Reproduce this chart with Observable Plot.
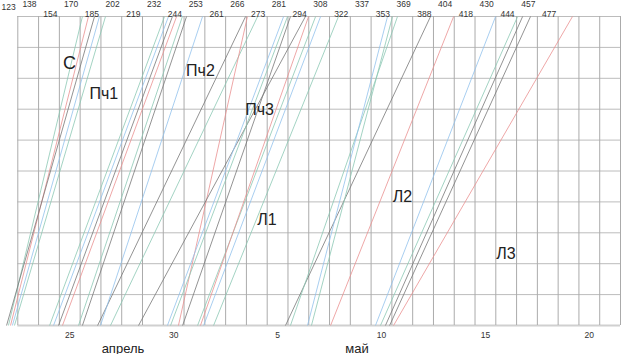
<!DOCTYPE html>
<html>
<head>
<meta charset="utf-8">
<script src="https://cdn.jsdelivr.net/npm/d3@7"></script>
<script src="https://cdn.jsdelivr.net/npm/@observablehq/plot@0.6"></script>
<style>
  html, body { margin: 0; padding: 0; background: #fff; }
  #chart svg { display: block; font-family: "Liberation Sans", Arial, sans-serif; }
</style>
</head>
<body>
<div id="chart"></div>
<script>
// ---- data (x in days counted from 23 April 00:00, y in grid rows 0..10) ----
const topLabels = [123, 138, 154, 170, 185, 202, 219, 232, 244, 253, 261, 266, 273, 281, 294, 308, 322, 337, 353, 369, 388, 404, 418, 430, 444, 457, 477];
const dayLabels = ["25", "30", "5", "10", "15", "20"];
const dayLabelDays = [2.5, 7.5, 12.5, 17.5, 22.5, 27.5];
const monthLabels = ["апрель", "май"];
const monthDays = [5.06, 16.32];
const groupNames = ["С", "Пч1", "Пч2", "Пч3", "Л1", "Л2", "Л3"];
const groupDays = [2.49, 4.14, 8.79, 11.63, 11.99, 18.51, 23.49];
const groupRows = [8.31, 7.34, 8.09, 6.80, 3.25, 4.01, 2.15];

// series id of each line: R, B, T, K
const lineSeries = [
  "T", "R", "K", "B", "T",
  "T", "B", "K", "R", "T", "K",
  "K", "B", "T", "R",
  "K", "B", "T", "K", "T", "R", "B", "T",
  "K", "T", "B", "T", "R",
  "B", "T", "K", "K", "R"
];
const lineStart = [
  -0.45, -0.35, -0.54, -0.26, -0.16,
  1.53, 1.72, 1.96, 2.15, 2.92, 3.11,
  3.84, 3.98, 4.46, 7.73,
  5.81, 7.20, 7.35, 7.93, 8.65, 8.79, 8.94, 9.42,
  12.88, 13.12, 13.94, 14.13, 15.05,
  17.21, 17.45, 17.69, 17.89, 18.08
];
const lineEnd = [
  3.11, 3.40, 3.69, 3.93, 4.22,
  7.06, 7.25, 7.44, 7.64, 7.92, 8.12,
  10.96, 8.89, 11.54, 11.05,
  13.84, 12.79, 12.98, 13.12, 14.33, 13.99, 14.57, 15.43,
  19.86, 18.27, 17.79, 18.03, 20.97,
  22.99, 24.05, 24.29, 24.67, 26.69
];
const seriesNames = ["R", "B", "T", "K"];
const seriesColors = ["#ea9090", "#92c2ec", "#8cc8b4", "#777777"];

// ---- tables built from the arrays ----
const lines = lineStart.map((s, i) => ({start: s, end: lineEnd[i], series: lineSeries[i]}));
const tops = topLabels.map((v, i) => ({day: i, v}));
const days = dayLabels.map((t, i) => ({day: dayLabelDays[i], t}));
const months = monthLabels.map((t, i) => ({day: monthDays[i], t}));
const groups = groupNames.map((t, i) => ({day: groupDays[i], row: groupRows[i], t}));

const topText = (filter, dy) => Plot.text(tops, {
  filter, x: "day", y: () => 10, text: "v", fontSize: 8.5, fill: "#333",
  textAnchor: "end", lineAnchor: "bottom", dx: -2, dy
});

const chart = Plot.plot({
  width: 621,
  height: 354,
  marginLeft: 17.3,
  marginRight: 1,
  marginTop: 16,
  marginBottom: 29,
  x: {domain: [0, 29], axis: null},
  y: {domain: [0, 10], axis: null},
  color: {type: "ordinal", domain: seriesNames, range: seriesColors},
  style: {fontFamily: "'Liberation Sans', Arial, sans-serif", background: "#fff"},
  marks: [
    Plot.ruleY(d3.range(1, 11), {stroke: "#bcbcbc", strokeWidth: 1}),
    Plot.ruleY([0], {stroke: "#d0d0d0", strokeWidth: 2}),
    Plot.ruleX(d3.range(0, 30), {stroke: "#ababab", strokeWidth: 1}),
    Plot.link(lines, {x1: "start", x2: "end", y1: () => 0, y2: () => 10, stroke: "series", strokeWidth: 0.8}),
    topText((d) => d.day === 0, -7),
    topText((d) => d.day % 2 === 1, -9.2),
    topText((d) => d.day > 0 && d.day % 2 === 0, 0.4),
    Plot.text(days, {x: "day", y: () => 0, text: "t", fontSize: 8.5, fill: "#333", lineAnchor: "bottom", dy: 12}),
    Plot.text(months, {x: "day", y: () => 0, text: "t", fontSize: 13, fill: "#222", lineAnchor: "bottom", dy: 27}),
    Plot.text(groups, {filter: (d) => d.t === "С", x: "day", y: "row", text: "t", fill: "#222", lineAnchor: "bottom", fontSize: 18}),
    Plot.text(groups, {filter: (d) => d.t !== "С", x: "day", y: "row", text: "t", fill: "#222", lineAnchor: "bottom", fontSize: 16})
  ]
});
document.getElementById("chart").appendChild(chart);
</script>
</body>
</html>
